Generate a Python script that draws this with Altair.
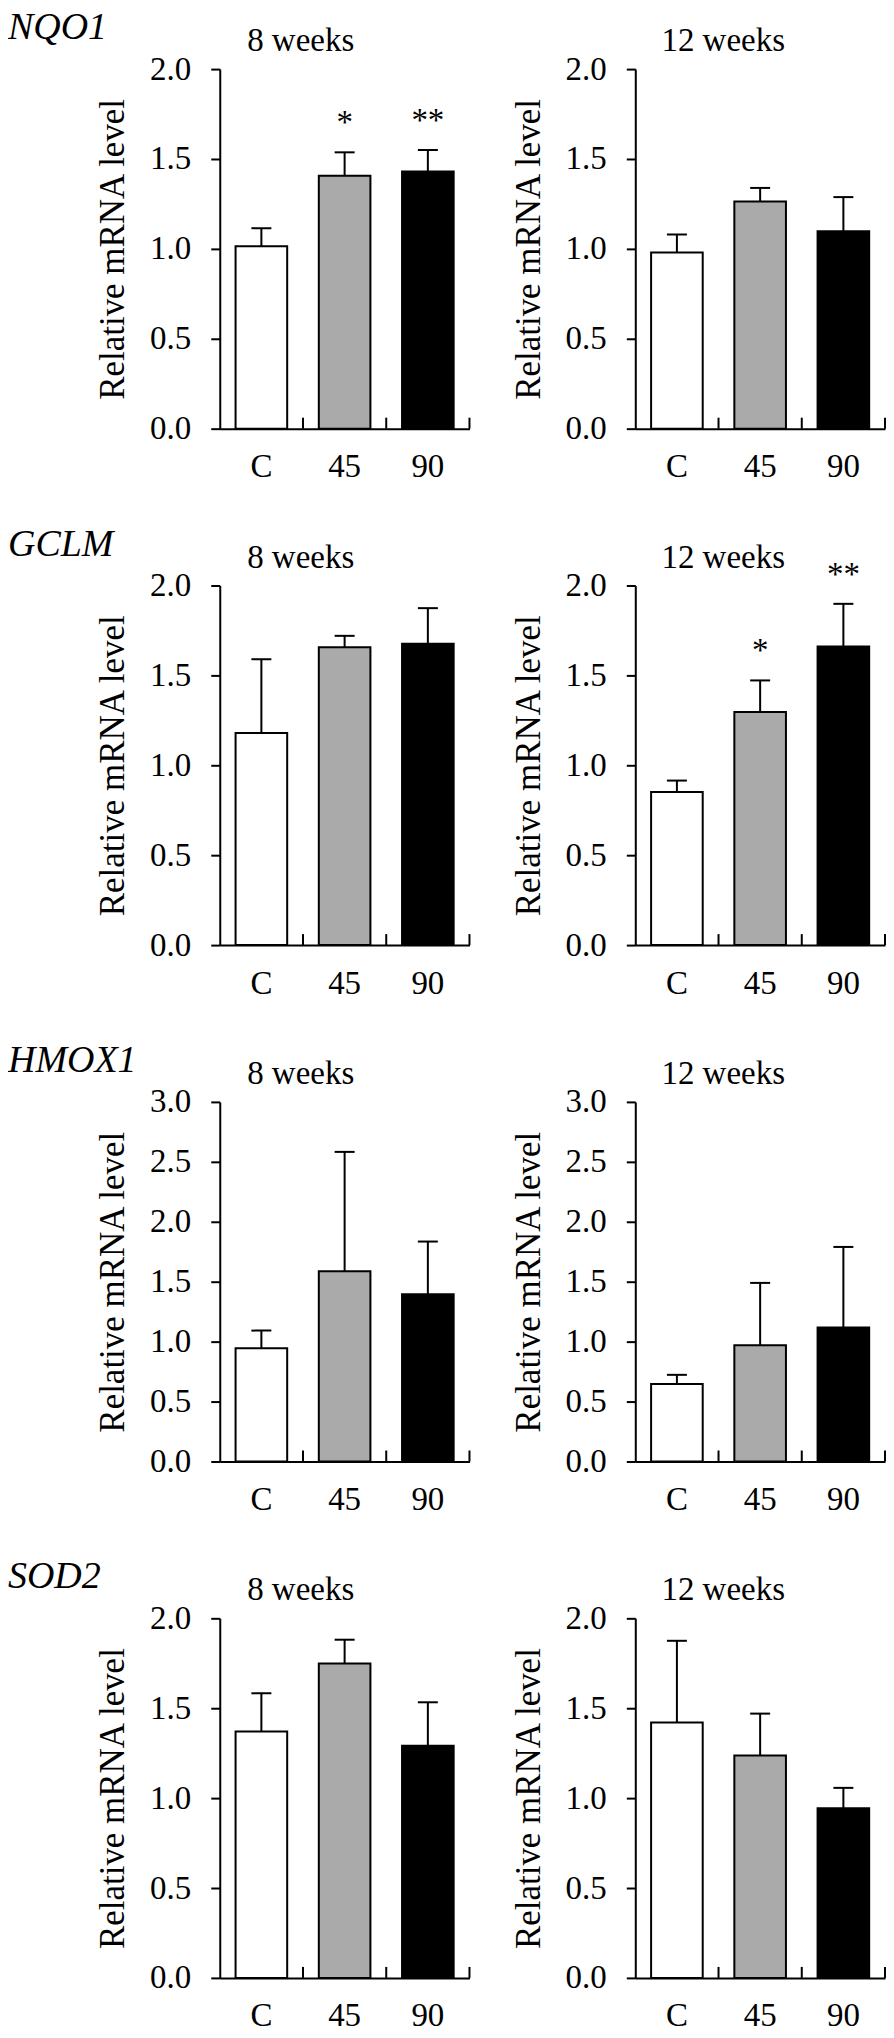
import altair as alt
import pandas as pd

groups = ["C", "45", "90"]
bar_colors = ["white", "#aaaaaa", "black"]
genes = ["NQO1", "GCLM", "HMOX1", "SOD2"]
weeks = ["8 weeks", "12 weeks"]
y_max = [2.0, 2.0, 3.0, 2.0]

# mean values (C, 45, 90)
nqo1_8w_mean = [1.015, 1.407, 1.43]
nqo1_8w_se = [0.10, 0.13, 0.12]
nqo1_12w_mean = [0.98, 1.263, 1.098]
nqo1_12w_se = [0.10, 0.076, 0.19]
gclm_8w_mean = [1.18, 1.656, 1.676]
gclm_8w_se = [0.41, 0.064, 0.198]
gclm_12w_mean = [0.852, 1.296, 1.661]
gclm_12w_se = [0.063, 0.176, 0.237]
hmox1_8w_mean = [0.944, 1.588, 1.395]
hmox1_8w_se = [0.148, 0.995, 0.44]
hmox1_12w_mean = [0.647, 0.969, 1.118]
hmox1_12w_se = [0.076, 0.521, 0.672]
sod2_8w_mean = [1.371, 1.749, 1.291]
sod2_8w_se = [0.212, 0.132, 0.242]
sod2_12w_mean = [1.42, 1.237, 0.943]
sod2_12w_se = [0.455, 0.233, 0.114]

nqo1_8w_sig = ["", "*", "**"]
gclm_12w_sig = ["", "*", "**"]
no_sig = ["", "", ""]

panels_data = [
    (nqo1_8w_mean, nqo1_8w_se, nqo1_8w_sig), (nqo1_12w_mean, nqo1_12w_se, no_sig),
    (gclm_8w_mean, gclm_8w_se, no_sig), (gclm_12w_mean, gclm_12w_se, gclm_12w_sig),
    (hmox1_8w_mean, hmox1_8w_se, no_sig), (hmox1_12w_mean, hmox1_12w_se, no_sig),
    (sod2_8w_mean, sod2_8w_se, no_sig), (sod2_12w_mean, sod2_12w_se, no_sig),
]

FONT = "Liberation Serif"
W, H = 250, 360
STEP_HALF = W / 3 / 2


def panel(gene_idx, week_idx):
    means, ses, sig = panels_data[gene_idx * 2 + week_idx]
    ymax = y_max[gene_idx]
    df = pd.DataFrame({
        "group": groups,
        "mean": means,
        "top": [m + s for m, s in zip(means, ses)],
        "sig": sig,
    })
    ticks = [i * 0.5 for i in range(int(ymax / 0.5) + 1)]
    x = alt.X("group:N", sort=groups,
              scale=alt.Scale(domain=groups, paddingInner=0.38, paddingOuter=0.19),
              axis=alt.Axis(title=None, labelAngle=0, ticks=False, tickSize=0,
                            labelPadding=22, labelFontSize=33))
    yscale = alt.Scale(domain=[0, ymax], nice=False, zero=True)
    yaxis = alt.Axis(title="Relative mRNA level", values=ticks, format=".1f",
                     grid=False, tickSize=9, labelPadding=20, titlePadding=19,
                     labelFontSize=33, titleFontSize=35)
    base = alt.Chart(df)
    err = base.mark_rule(color="black", strokeWidth=2).encode(
        x=x, y=alt.Y("mean:Q", scale=yscale, axis=yaxis), y2="top:Q")
    bars = base.mark_bar(stroke="black", strokeWidth=2).encode(
        x=x, y=alt.Y("mean:Q", scale=yscale, axis=yaxis),
        fill=alt.Fill("group:N", scale=alt.Scale(domain=groups, range=bar_colors), legend=None))
    cap = base.mark_tick(color="black", size=20, thickness=2, opacity=1).encode(
        x=x, y=alt.Y("top:Q", scale=yscale, axis=yaxis))
    xticks = base.mark_rule(color="black", strokeWidth=2, xOffset=STEP_HALF).encode(
        x=x, y=alt.value(H), y2=alt.value(H - 11))
    stars = base.mark_text(font=FONT, fontSize=33, baseline="alphabetic", dy=-19,
                           color="black").encode(
        x=x, y=alt.Y("top:Q", scale=yscale, axis=yaxis), text="sig:N")
    title_df = pd.DataFrame({"t": [weeks[week_idx]]})
    wk = alt.Chart(title_df).mark_text(
        font=FONT, fontSize=33, align="center", baseline="alphabetic",
        color="black").encode(
        x=alt.value(W / 2 - (44 if week_idx == 0 else 37)), y=alt.value(-18), text="t:N")
    layers = [err, bars, cap, xticks, stars, wk]
    if week_idx == 0:
        gl = alt.Chart(pd.DataFrame({"g": [genes[gene_idx]]})).mark_text(
            font=FONT, fontSize=38, fontStyle="italic", align="left",
            baseline="alphabetic", color="black").encode(
            x=alt.value(-212), y=alt.value(-30), text="g:N")
        layers.append(gl)
    return alt.layer(*layers).properties(width=W, height=H)


charts = [panel(g, w) for g in range(4) for w in range(2)]

chart = alt.concat(*charts, columns=2, spacing={"row": 157, "column": 166},
                   bounds="flush").properties(padding=0).configure_view(
    stroke=None).configure_axis(
    labelFont=FONT, titleFont=FONT, labelColor="black", titleColor="black",
    titleFontWeight="normal", domainColor="black", tickColor="black",
    domainWidth=2, tickWidth=2)

chart.save("out.html", embed_options={"renderer": "svg", "actions": False})
